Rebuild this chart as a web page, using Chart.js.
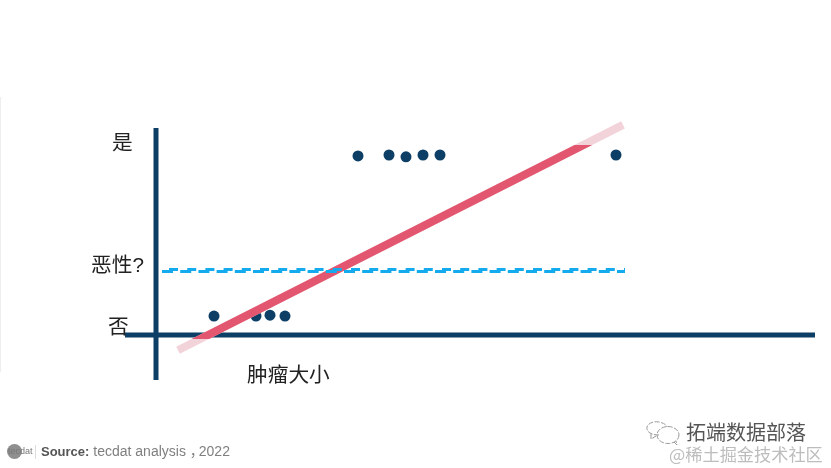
<!DOCTYPE html>
<html lang="zh">
<head>
<meta charset="utf-8">
<title>肿瘤大小</title>
<script src="https://cdn.jsdelivr.net/npm/chart.js@4/dist/chart.umd.min.js"></script>
<style>
  html, body { margin: 0; padding: 0; background: #fff; }
  #wrap { position: relative; width: 831px; height: 468px; overflow: hidden; }
  #chart { position: absolute; left: 0; top: 0; }
  .lbl { position: absolute; white-space: nowrap; color: #222; font: 20.7px "Liberation Sans", "Noto Sans CJK SC", sans-serif; line-height: 1; }
  .src { position: absolute; left: 41px; top: 444px; height: 14px; line-height: 14px; font-family: "Liberation Sans", "Noto Sans CJK SC", sans-serif; font-size: 14px; color: #7f7f7f; white-space: nowrap; }
  .src b { color: #555; font-size: 13px; }
  .src i { font-style: normal; letter-spacing: -5px; }
  .logo { position: absolute; left: 7px; top: 444px; width: 15px; height: 15px; border-radius: 50%; background: #8f8f8f; }
  .logotxt { position: absolute; left: 8px; top: 446px; font: 9px "Liberation Sans", sans-serif; color: #777; }
  .sep { position: absolute; left: 35px; top: 445px; width: 1px; height: 14px; background: #ddd; }
  .mark1 { position: absolute; left: 686px; top: 422px; font: 20px "Noto Sans CJK SC", sans-serif; line-height: 1; color: #555; }
  .mark2 { position: absolute; left: 669px; top: 445px; font: 17.2px "Noto Sans CJK SC", sans-serif; line-height: 1; color: #bdbdbd; }
  .wechat { position: absolute; left: 645px; top: 420px; }
  #border { position: absolute; left: 0; top: 97px; width: 1px; height: 275px; background: #eee; }
</style>
</head>
<body>
<div id="wrap">
  <canvas id="chart" width="831" height="468"></canvas>
  <div id="border"></div>
  <div class="lbl" style="left:112px;top:133px">是</div>
  <div class="lbl" style="left:91px;top:255px">恶性?</div>
  <div class="lbl" style="left:108px;top:317px">否</div>
  <div class="lbl" style="left:247px;top:365px">肿瘤大小</div>
  <div class="logo"></div><div class="logotxt">tecdat</div><div class="sep"></div>
  <div class="src"><b>Source:</b> tecdat analysis <i>，</i>2022</div>
  <svg class="wechat" width="38" height="28" viewBox="0 0 38 28" fill="none" stroke="#999" stroke-width="1" stroke-dasharray="5 1.5">
    <path d="M14 15 C5 15 1 11 2 7 C3 3 9 1 14 2 C18 3 21 4 22 7"/>
    <path d="M6 14 L6 19 L11 16"/>
    <ellipse cx="23" cy="15" rx="11" ry="8.5"/>
    <path d="M29 22 L32 25 L31 21"/>
  </svg>
  <div class="mark1">拓端数据部落</div>
  <div class="mark2">@稀土掘金技术社区</div>
</div>
<script>
const sizeValues = [11.6, 20, 22.8, 25.8, 40.4, 46.6, 50, 53.4, 56.8, 92];
const malignantValues = [0.105, 0.105, 0.11, 0.105, 0.995, 1, 0.99, 1, 1, 1];

const fitSizes = [4.4, 93.4];
const fitValues = [-0.085, 1.167];

const thresholdSizes = [1.2, 93.8];
const thresholdLow = [0.353, 0.353];
const thresholdHigh = [0.364, 0.364];

const xAxisSizes = [-6.2, 131.8];
const yAxisValues = [-0.25, 1.15];

const navy = '#0d3f66';

const toPoints = (xs, ys) => xs.map((x, i) => ({ x, y: ys[i] }));

function lineDataset(data, color, width, extra = {}) {
  return {
    type: 'line',
    data,
    borderColor: color,
    borderWidth: width,
    pointRadius: 0,
    fill: false,
    tension: 0,
    clip: false,
    ...extra,
  };
}

new Chart(document.getElementById('chart').getContext('2d'), {
  type: 'scatter',
  data: {
    datasets: [
      {
        label: '肿瘤',
        data: toPoints(sizeValues, malignantValues),
        backgroundColor: navy,
        borderWidth: 0,
        pointRadius: 5.5,
        clip: false,
        order: 5,
      },
      lineDataset(toPoints(xAxisSizes, [0, 0]), navy, 5, { order: 6 }),
      lineDataset(toPoints([0, 0], yAxisValues), navy, 5, { order: 6 }),
      lineDataset(toPoints(fitSizes, fitValues), '#f3d3da', 8, { order: 4 }),
      // full-strength part of the fit is cut off flat at both ends
      lineDataset(toPoints(fitSizes, fitValues), '#e2566f', 8, {
        order: 3,
        clip: { left: 100, right: 100, top: -17, bottom: -41 },
      }),
      lineDataset(toPoints(thresholdSizes, thresholdLow), '#14abee', 3, { borderDash: [11, 7.2], order: 2 }),
      lineDataset(toPoints(thresholdSizes, thresholdHigh), '#14abee', 3, { borderDash: [9, 9.2], borderDashOffset: -7, order: 2 }),
    ],
  },
  options: {
    responsive: false,
    animation: false,
    layout: { padding: { left: 125, right: 16, top: 128, bottom: 88 } },
    plugins: { legend: { display: false }, tooltip: { enabled: false } },
    scales: {
      x: { type: 'linear', display: false, min: -6.2, max: 131.8 },
      y: { type: 'linear', display: false, min: -0.25, max: 1.15 },
    },
  },
});
</script>
</body>
</html>
